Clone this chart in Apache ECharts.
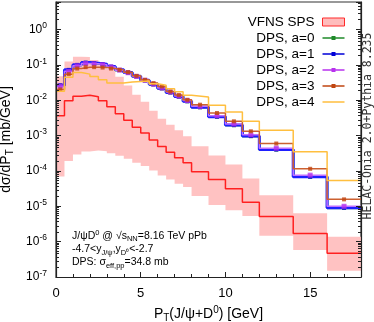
<!DOCTYPE html>
<html><head><meta charset="utf-8">
<script src="https://cdn.jsdelivr.net/npm/echarts@6/dist/echarts.min.js"></script>
<style>html,body{margin:0;padding:0;background:#fff}#c{width:374px;height:322px}</style>
</head><body><div id="c"></div>
<script>
// ---- data ----
const binEdges = [0,0.5,1,1.5,2,2.5,3,3.5,4,4.5,5,5.5,6,6.5,7,7.5,8,9,10,11,12,14,16,18];
const vfnsCentral = [0.00366,0.00968,0.0130,0.0138,0.0126,0.00968,0.00656,0.00417,0.00270,0.00173,0.00119,0.000746,0.000490,0.000339,0.000236,0.000170,9.49e-5,5.76e-5,3.15e-5,1.30e-5,5.13e-6,1.70e-6,4.66e-7];
const vfnsUpper = [0.0474,0.124,0.171,0.168,0.138,0.110,0.0771,0.0459,0.0261,0.0143,0.00908,0.00506,0.00301,0.00204,0.00141,0.000955,0.000500,0.000273,0.000152,6.15e-5,2.04e-5,6.35e-6,1.37e-6];
const vfnsLower = [7.0e-5,0.000191,0.000292,0.000354,0.000378,0.000361,0.000315,0.000268,0.000221,0.000170,0.000137,0.000103,7.47e-5,5.76e-5,4.36e-5,3.50e-5,1.95e-5,1.09e-5,7.71e-6,5.33e-6,1.46e-6,5.76e-7,1.50e-7];
const dpsA0 = [0.026,0.071,0.098,0.114,0.110,0.103,0.088,0.071,0.060,0.047,0.036,0.0278,0.0215,0.0164,0.0125,0.0093,0.0063,0.0034,0.00196,0.00096,0.00040,6.8e-5,9.0e-6];
const dpsA1 = [0.0265,0.0722,0.100,0.116,0.112,0.105,0.0896,0.0722,0.0607,0.0474,0.0366,0.0282,0.0218,0.0166,0.0127,0.00937,0.00635,0.00343,0.00198,0.00097,0.000403,6.87e-5,9.08e-6];
const dpsA2 = [0.025,0.066,0.094,0.109,0.107,0.101,0.087,0.071,0.060,0.047,0.0366,0.0285,0.0222,0.0171,0.0131,0.0098,0.0067,0.00365,0.00212,0.00105,0.00044,7.6e-5,1.0e-5];
const dpsA3 = [0.0201,0.0547,0.0787,0.0862,0.0862,0.0839,0.0787,0.0722,0.0623,0.0490,0.0378,0.0305,0.0245,0.0177,0.0140,0.0103,0.00747,0.00435,0.00253,0.00132,0.000596,0.000115,1.57e-5];
const dpsA4 = [0.0179,0.0450,0.0607,0.0547,0.0468,0.0378,0.0305,0.0305,0.0326,0.0339,0.0348,0.0292,0.0265,0.0211,0.0174,0.0138,0.0123,0.00723,0.00466,0.00253,0.00141,0.000347,5.4e-5];
const xTickLabels = [0,5,10,15];
const yTickExponents = [-7,-6,-5,-4,-3,-2,-1,0];
const legendNames = ['VFNS SPS','DPS, a=0','DPS, a=1','DPS, a=2','DPS, a=3','DPS, a=4'];

// ---- helpers ----
function stepData(vals){ return binEdges.map((e,i)=>[e, vals[Math.min(i, vals.length-1)]]); }
function centers(vals){ return vals.map((v,i)=>[(binEdges[i]+binEdges[i+1])/2, v]); }

const ICON_MARK = 'path://M0,0H0.01V0.01H0Z M0,7.99H0.01V8H0Z M0,3.3H22V4.7H0Z M9,2H13V6H9Z';
const ICON_LINE = 'path://M0,0H0.01V0.01H0Z M0,7.99H0.01V8H0Z M0,3.2H22V4.8H0Z';

const dps = [
  {name:'DPS, a=0', vals:dpsA0, line:'#5cb85c', mark:'#1f8a2a', w:2.5, ms:4},
  {name:'DPS, a=1', vals:dpsA1, line:'#1f1fff', mark:'#0000d8', w:3, ms:4},
  {name:'DPS, a=2', vals:dpsA2, line:'#c070ff', mark:'#b832ee', w:1.5, ms:5},
  {name:'DPS, a=3', vals:dpsA3, line:'#cc6030', mark:'#c04510', w:1.5, ms:4},
  {name:'DPS, a=4', vals:dpsA4, line:'#ffbf3f', mark:null, w:1.5, ms:0}
];

const series = [
  {name:'VFNS SPS', type:'line', step:'end', data:stepData(vfnsUpper),
   symbol:'none', showSymbol:false, lineStyle:{width:0, opacity:0},
   areaStyle:{color:'#ffc2c2', opacity:1, origin:'start'}, itemStyle:{color:'#ff3030'}, z:1},
  {name:'VFNS lower', type:'line', step:'end', data:stepData(vfnsLower),
   symbol:'none', showSymbol:false, lineStyle:{width:0, opacity:0},
   areaStyle:{color:'#ffffff', opacity:1, origin:'start'}, silent:true, z:1},
  {name:'VFNS central', type:'line', step:'end', data:stepData(vfnsCentral),
   symbol:'none', showSymbol:false, lineStyle:{color:'#ff2020', width:1.5}, z:2}
];
dps.forEach((d,k)=>{
  series.push({name:d.name, type:'line', step:'end', data:stepData(d.vals), symbol:'none', showSymbol:false,
    lineStyle:{color:d.line, width:d.w}, itemStyle:{color:d.line}, z:3+k});
  if (d.mark) series.push({name:d.name+' pts', type:'scatter', data:centers(d.vals), symbol:'rect',
    symbolSize:d.ms, itemStyle:{color:d.mark}, z:3+k, silent:true});
});

const legendData = legendNames.map((n,i)=>{
  if (i===0) return {name:n, icon:'rect', itemStyle:{color:'#ffbcbc', borderColor:'#ff2a2a', borderWidth:1}};
  const d = dps[i-1];
  return {name:n, icon: d.mark ? ICON_MARK : ICON_LINE, itemStyle:{color: d.mark ? d.mark : d.line, borderWidth:0}};
});

const FONT = 'Liberation Sans';
const axisCommon = {z:20};
const chart = echarts.init(document.getElementById('c'), null, {renderer:'canvas'});
chart.setOption({
  animation:false,
  backgroundColor:'#fff',
  grid:{left:56, right:13, top:2, bottom:45, show:true, borderColor:'#333', borderWidth:1.2, outerBoundsMode:'none', containLabel:false},
  legend:{
    orient:'vertical', right:24, top:10, align:'right', itemWidth:22, itemHeight:8, itemGap:2, z:30,
    textStyle:{fontFamily:FONT, fontSize:13.5, color:'#000', padding:[0,3,0,0]},
    selectedMode:false, data:legendData
  },
  xAxis:[
    Object.assign({type:'value', min:0, max:18, interval:1, position:'bottom',
     axisLine:{show:true, onZero:false, lineStyle:{color:'#222', width:1.2}},
     axisTick:{show:true, inside:true, length:3, lineStyle:{color:'#222'}},
     splitLine:{show:false},
     axisLabel:{formatter:v=> xTickLabels.includes(v) ? String(v) : '', fontFamily:FONT, fontSize:13, color:'#000', margin:10},
     name:'{a|P}{sub|T}{a|(J/ψ+D}{sup|0}{a|) [GeV]}', nameLocation:'middle', nameGap:26,
     nameTextStyle:{rich:{
       a:{fontFamily:FONT, fontSize:14, color:'#000', lineHeight:18},
       sub:{fontFamily:FONT, fontSize:10, color:'#000', verticalAlign:'bottom'},
       sup:{fontFamily:FONT, fontSize:10, color:'#000', verticalAlign:'top'}}}
    }, axisCommon),
    Object.assign({type:'value', min:0, max:18, interval:5, position:'bottom',
     axisLine:{show:false, onZero:false},
     axisTick:{show:true, inside:true, length:5, lineStyle:{color:'#222'}},
     splitLine:{show:false}, axisLabel:{show:false}}, axisCommon)
  ],
  yAxis:[
    Object.assign({type:'log', logBase:10, min:1e-7, max:6, interval:1, position:'left',
     axisLine:{show:true, onZero:false, lineStyle:{color:'#222', width:1.2}},
     axisTick:{show:true, inside:true, length:5, lineStyle:{color:'#222'}},
     minorTick:{show:true, splitNumber:10, length:3, lineStyle:{color:'#222'}},
     splitLine:{show:false}, minorSplitLine:{show:false},
     axisLabel:{
       formatter:v=>{ const e=Math.round(Math.log10(v)); return (Math.abs(Math.log10(v)-e)<1e-6 && yTickExponents.includes(e)) ? '{b|10}{s|'+e+'}' : ''; },
       margin:9, showMaxLabel:false,
       rich:{b:{fontFamily:FONT, fontSize:12, color:'#000', lineHeight:16},
             s:{fontFamily:FONT, fontSize:8.5, color:'#000', verticalAlign:'top'}}},
     name:'{a|dσ/dP}{sub|T}{a| [mb/GeV]}', nameLocation:'middle', nameRotate:90, nameGap:40,
     nameTextStyle:{rich:{
       a:{fontFamily:FONT, fontSize:14, color:'#000', lineHeight:18},
       sub:{fontFamily:FONT, fontSize:10, color:'#000', verticalAlign:'bottom'}}}
    }, axisCommon),
    Object.assign({type:'log', logBase:10, min:1e-7, max:6, interval:1, position:'right',
     axisLine:{show:true, onZero:false, lineStyle:{color:'#222', width:1.2}},
     axisTick:{show:true, inside:true, length:5, lineStyle:{color:'#222'}},
     minorTick:{show:true, splitNumber:10, length:3, lineStyle:{color:'#222'}},
     splitLine:{show:false}, minorSplitLine:{show:false}, axisLabel:{show:false}}, axisCommon)
  ],
  graphic:{elements:[
    {type:'text', x:72, y:236, z:100, style:{text:'{a|J/ψD}{p|0}{a| @ √s}{b|NN}{a|=8.16 TeV pPb}', verticalAlign:'middle',
      rich:{a:{fontFamily:FONT, fontSize:10.5, color:'#000', lineHeight:14},
            p:{fontFamily:FONT, fontSize:7.5, color:'#000', verticalAlign:'top'},
            b:{fontFamily:FONT, fontSize:7.5, color:'#000', verticalAlign:'bottom'}}}},
    {type:'text', x:72, y:249.5, z:100, style:{text:'{a|-4.7<y}{b|J/ψ}{a|,y}{b|D⁰}{a|<-2.7}', verticalAlign:'middle',
      rich:{a:{fontFamily:FONT, fontSize:10.5, color:'#000', lineHeight:14},
            b:{fontFamily:FONT, fontSize:7.5, color:'#000', verticalAlign:'bottom'}}}},
    {type:'text', x:72, y:262.5, z:100, style:{text:'{a|DPS: σ}{b|eff,pp}{a|=34.8 mb}', verticalAlign:'middle',
      rich:{a:{fontFamily:FONT, fontSize:10.5, color:'#000', lineHeight:14},
            b:{fontFamily:FONT, fontSize:7.5, color:'#000', verticalAlign:'bottom'}}}},
    {type:'text', x:368, y:126, z:100, rotation:Math.PI/2, style:{text:'HELAC-Onia 2.0+Pythia 8.235', align:'center', verticalAlign:'middle',
      font:'11.5px "DejaVu Sans Mono"', fill:'#333'}}
  ]},
  series: series
});
</script></body></html>
